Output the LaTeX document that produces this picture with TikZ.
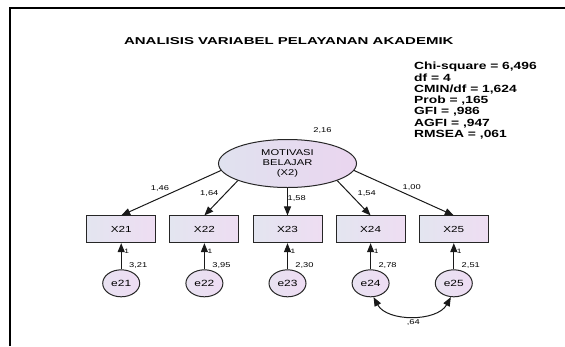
\documentclass[tikz,border=0pt]{standalone}
\usepackage{fontspec}
\setmainfont{Liberation Sans}[FakeStretch=1.33]
\newfontfamily\titlefont{Liberation Sans}[FakeStretch=1.5]
\usetikzlibrary{shapes.geometric,arrows.meta}

\definecolor{boxl}{RGB}{227,229,240}
\definecolor{boxr}{RGB}{238,221,242}
\definecolor{latl}{RGB}{224,226,239}
\definecolor{latr}{RGB}{234,213,239}
\definecolor{errl}{RGB}{232,226,241}
\definecolor{errr}{RGB}{238,220,243}

\tikzset{
  obs/.style={draw=black!85, line width=1pt, left color=boxl, right color=boxr,
    minimum width=69pt, minimum height=26.7pt, inner sep=0pt,
    font=\fontsize{8.8}{10}\selectfont},
  lat/.style={ellipse, draw=black!85, line width=1pt, left color=latl, right color=latr,
    minimum width=138pt, minimum height=48pt, inner sep=0pt, align=center,
    font=\fontsize{8.4}{9.7}\selectfont},
  err/.style={ellipse, draw=black!85, line width=1pt, left color=errl, right color=errr,
    minimum width=37pt, minimum height=27pt, inner sep=0pt,
    font=\fontsize{9}{10}\selectfont},
  lbl/.style={inner sep=0pt, text height=5pt, text depth=0pt,
    font=\fontsize{7}{8}\selectfont},
  one/.style={inner sep=0pt, text height=4.5pt, text depth=0pt,
    font=\fontsize{6.3}{7}\selectfont},
  fit/.style={inner sep=0pt, anchor=base west,
    font=\bfseries\fontsize{10.4}{11}\selectfont},
  path/.style={->, line width=1pt, black!90},
}

\begin{document}
\begin{tikzpicture}[x=1pt,y=-1pt,>={Triangle[length=9pt,width=7pt]}]
\useasboundingbox (0,0) rectangle (565,346);
% frame
\draw[line width=2pt] (10,346) -- (10,8.3) -- (565,8.3);
\node[font=\titlefont\bfseries\fontsize{10}{12}\selectfont] (title) at (288.8,41.5)
  {ANALISIS VARIABEL PELAYANAN AKADEMIK};

% fit statistics
\foreach \txt [count=\i] in {{Chi-square = 6,496}, {df = 4}, {CMIN/df = 1,624},
    {Prob = ,165}, {GFI = ,986}, {AGFI = ,947}, {RMSEA = ,061}}
  \node[fit] (fit\i) at (414, 58.4+11.3*\i) {\txt};

% latent variable
\node[lat] (mot) at (287.5,163.5) {MOTIVASI\\BELAJAR\\(X2)};
\node[lbl] (vmot) at (322.5,130) {2,16};

% indicators and their errors
\foreach \n/\x/\v in {21/121.2/{3,21}, 22/204.4/{3,95}, 23/287.5/{2,30},
    24/370.6/{2,78}, 25/453.8/{2,51}} {
  \node[obs] (x\n) at (\x,229.3) {X\n};
  \node[err] (e\n) at (\x,283.3) {e\n};
  \draw[path] (e\n) -- (x\n);
  \node[one] (w\n) at (\x+5.5,251.7) {1};
  \node[lbl] (v\n) at (\x+17,265) {\v};
}

% loadings
\draw[path] (mot.186) -- (x21.north);
\draw[path] (mot.199) -- (x22.north);
\draw[path] (mot.270) -- (x23.north);
\draw[path] (mot.341) -- (x24.north);
\draw[path] (mot.354) -- (x25.north);
\node[lbl] (l21) at (160,187.7) {1,46};
\node[lbl] (l22) at (209.3,192.7) {1,64};
\node[lbl] (l23) at (296.7,197.7) {1,58};
\node[lbl] (l24) at (366.7,192.7) {1,54};
\node[lbl] (l25) at (411.7,186.7) {1,00};

% error covariance
\draw[path, <->] (e24.282) .. controls (387,322) and (437,322) .. (e25.258);
\node[lbl] (c45) at (413.3,322.3) {,64};
\end{tikzpicture}
\end{document}
